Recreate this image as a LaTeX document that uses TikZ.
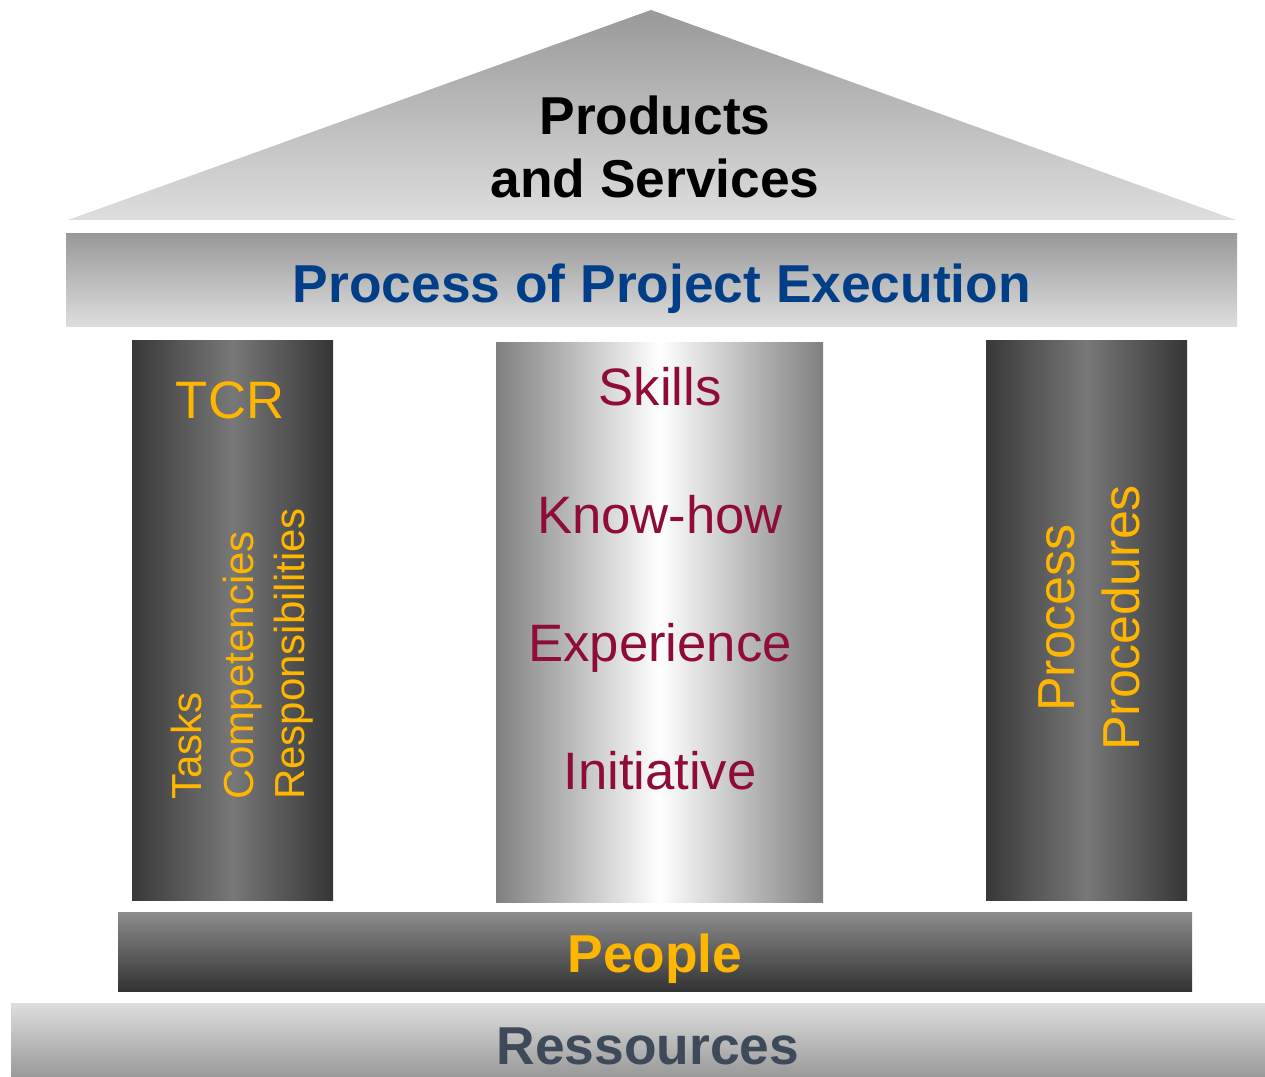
\documentclass[tikz,border=0pt]{standalone}
\usepackage{fontspec}
\setmainfont{Liberation Sans}
\definecolor{pblue}{HTML}{003F87}
\definecolor{pgold}{HTML}{FFB600}
\definecolor{pred}{HTML}{8E0B3A}
\definecolor{pslate}{HTML}{3E4A5A}
\tikzset{
  big/.style={font=\fontsize{40}{48}\selectfont\bfseries, inner sep=0pt, anchor=base},
  mid/.style={font=\fontsize{39.5}{46}\selectfont, inner sep=0pt, anchor=base, text=pred},
  side/.style={font=\fontsize{31.5}{38}\selectfont, inner sep=0pt, rotate=90, anchor=base west, text=pgold},
  rside/.style={font=\fontsize{39}{46}\selectfont, inner sep=0pt, rotate=90, anchor=base, text=pgold},
  darkpillar/.style={left color=black!78, right color=black!79, middle color=black!53},
  lightpillar/.style={left color=black!50, right color=black!50, middle color=white},
}
\begin{document}
\begin{tikzpicture}[x=0.75pt,y=-0.75pt]
\useasboundingbox (0,0) rectangle (1265,1077);
% roof
\path[top color=black!40, bottom color=black!13] (651,10) -- (1236,220) -- (68,220) -- cycle;
\node[big] (prod) at (655,135) {Products};
\node[big] (serv) at (655,198) {and Services};
% process bar
\path[top color=black!40, bottom color=black!13] (66,234) rectangle (1237,327);
\node[big, text=pblue] (proc) at (662,303) {Process of Project Execution};
% pillars
\path[darkpillar] (132,340) rectangle (333,900);
\path[lightpillar] (496,342) rectangle (823,902);
\path[darkpillar] (986,340) rectangle (1187,900);
% left pillar texts
\node[mid, text=pgold] (tcr) at (230,418) {TCR};
\node[side] (tasks) at (201,800) {Tasks};
\node[side] (comp) at (253,800) {Competencies};
\node[side] (resp) at (304,800) {Responsibilities};
% middle pillar texts
\node[mid] (skills) at (660,405) {Skills};
\node[mid] (know) at (660,533) {Know-how};
\node[mid] (exp) at (660,661) {Experience};
\node[mid] (init) at (660,789) {Initiative};
% right pillar texts
\node[rside] (process) at (1074,618) {Process};
\node[rside] (procs) at (1139,618) {Procedures};
% people
\path[top color=black!45, bottom color=black!80] (118,912) rectangle (1192,991);
\node[big, text=pgold] (people) at (655,972) {People};
% ressources
\path[top color=black!13, bottom color=black!40] (11,1003) rectangle (1265,1077);
\node[big, text=pslate] (res) at (648,1064) {Ressources};
\end{tikzpicture}
\end{document}
